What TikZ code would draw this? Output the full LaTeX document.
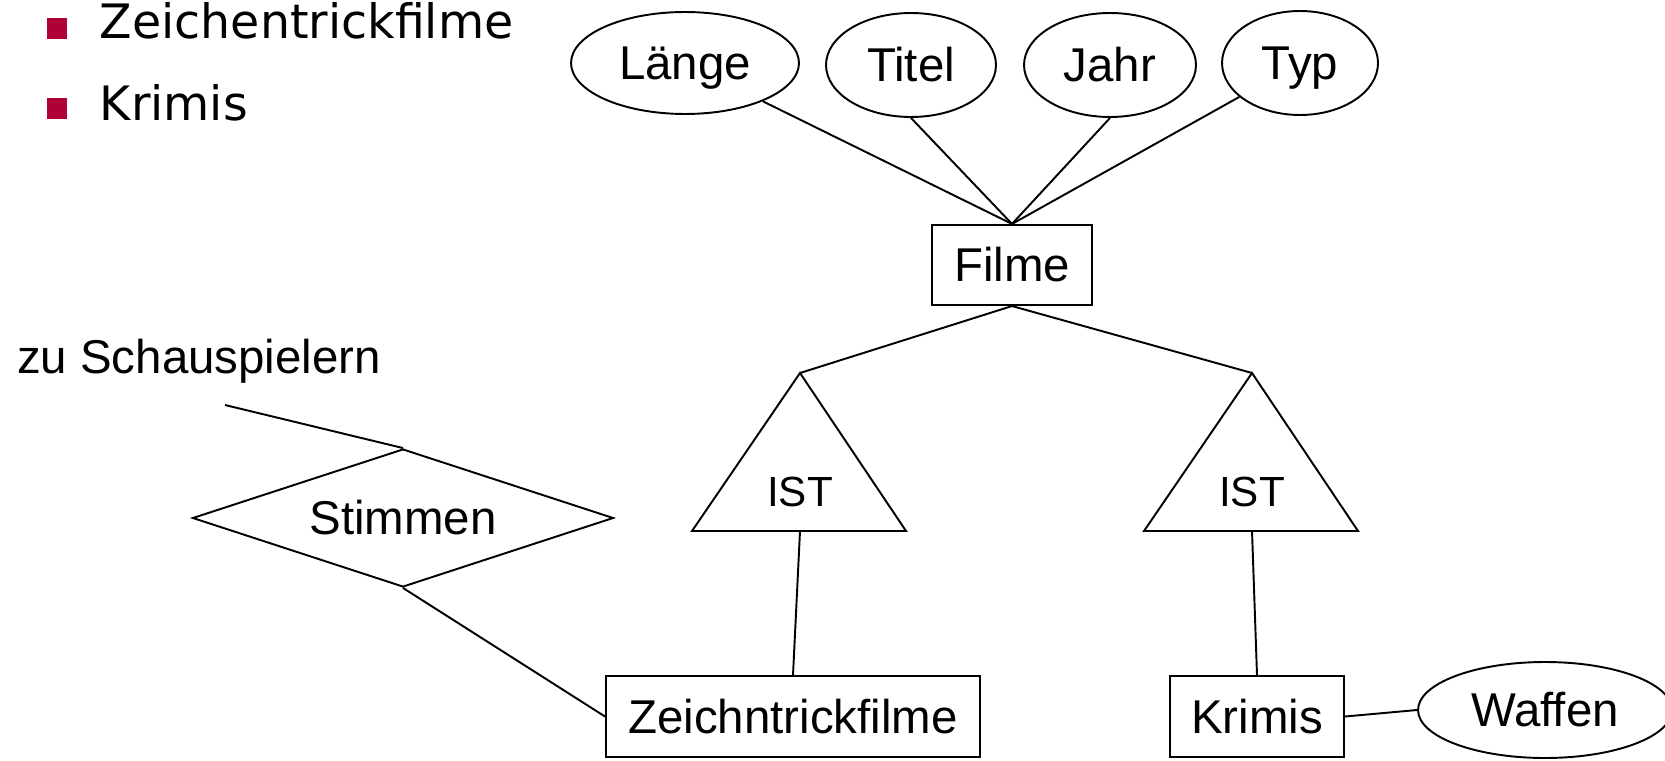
\documentclass[tikz,border=0pt]{standalone}
\usepackage{fontspec}
\setmainfont{Liberation Sans}
\newfontfamily\bulletfont{DejaVu Sans}
\usepackage{tikz}
\usetikzlibrary{shapes.geometric}
\tikzset{entity/.style={draw, rectangle, inner sep=0pt, line width=1.2pt},
	attr/.style={draw, ellipse, inner sep=0pt, text height=19pt, text depth=0pt},
	rel/.style={draw, diamond, inner sep=0pt, aspect=3.05}}

\begin{document}
\begin{tikzpicture}[x=0.02cm, y=-0.02cm, line width=1.1pt, font=\fontsize{27}{32}\selectfont]
	
	\definecolor{bulletred}{RGB}{175,0,55}
	\useasboundingbox (0,0) rectangle (1665,760);
	
	% bullet list
	\node[fill=bulletred, minimum size=0.42cm, inner sep=0pt] (bullet1) at (57,28.5) {};
	\node[fill=bulletred, minimum size=0.42cm, inner sep=0pt] (bullet2) at (57,108.5) {};
	\node[anchor=base west, inner sep=0pt, font=\bulletfont\fontsize{27}{32}\selectfont] (item1) at (99,39) {Zeichentrickfilme};
	\node[anchor=base west, inner sep=0pt, font=\bulletfont\fontsize{27}{32}\selectfont] (item2) at (99,121) {Krimis};
	
	% entities
	\node[entity, minimum width=3.2cm, minimum height=1.6cm] (Filme) at (1012,265) {Filme};
	\node[entity, minimum width=7.48cm, minimum height=1.62cm] (Zeichen) at (793,716.5) {Zeichntrickfilme};
	\node[entity, minimum width=3.48cm, minimum height=1.62cm] (Krimis) at (1257,716.5) {Krimis};
	
	% attributes
	\node[attr, minimum width=4.56cm, minimum height=2.04cm] (Laenge) at (685,63) {Länge};
	\node[attr, minimum width=3.4cm, minimum height=2.08cm] (Titel) at (911,65) {Titel};
	\node[attr, minimum width=3.44cm, minimum height=2.08cm] (Jahr) at (1110,65) {Jahr};
	\node[attr, minimum width=3.12cm, minimum height=2.08cm] (Typ) at (1300,63) {Typ};
	\node[attr, minimum width=5.08cm, minimum height=1.92cm] (Waffen) at (1545,710) {Waffen};
	
	\foreach \a in {Laenge, Titel.south, Jahr.south, Typ}
		\draw (\a) -- (Filme.north);
	
	% IST triangles
	\foreach \t/\tx in {istL/800, istR/1252} {
		\coordinate (\t top) at (\tx,373);
		\coordinate (\t base) at (\tx,531);
		\draw (\t top) -- (\tx-108,531) -- (\tx+106,531) -- cycle;
		\node[inner sep=0pt, font=\fontsize{24}{28}\selectfont] (\t) at (\tx,492) {IST};
	}
	\draw (Filme.south) -- (istLtop);
	\draw (Filme.south) -- (istRtop);
	\draw (istLbase) -- (Zeichen.north);
	\draw (istRbase) -- (Krimis.north);
	
	% Stimmen relationship
	\node[rel, minimum width=8.42cm, minimum height=2.76cm] (Stimmen) at (403,518) {Stimmen};
	\coordinate (toActors) at (225,405);
	\node[inner sep=0pt] (actors) at (199,361) {zu Schauspielern};
	\draw (toActors) -- (Stimmen.north);
	\draw (Stimmen.south) -- (Zeichen.west);
	
	% Waffen
	\draw (Krimis.east) -- (Waffen.west);
	
\end{tikzpicture}
\end{document}
